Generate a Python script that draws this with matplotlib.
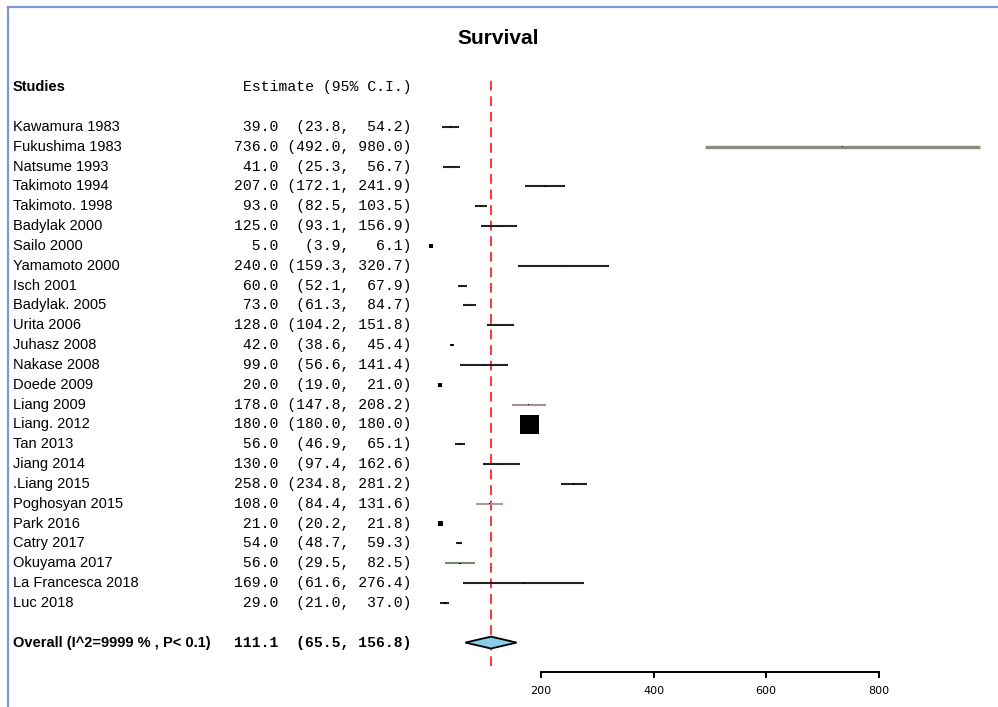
import matplotlib
matplotlib.use("Agg")
import matplotlib.pyplot as plt
import matplotlib.transforms as mtransforms
from matplotlib.lines import Line2D
import numpy as np

# Study data
studies = [
    "Kawamura 1983", "Fukushima 1983", "Natsume 1993", "Takimoto 1994", "Takimoto. 1998",
    "Badylak 2000", "Sailo 2000", "Yamamoto 2000", "Isch 2001", "Badylak. 2005",
    "Urita 2006", "Juhasz 2008", "Nakase 2008", "Doede 2009", "Liang 2009",
    "Liang. 2012", "Tan 2013", "Jiang 2014", ".Liang 2015", "Poghosyan 2015",
    "Park 2016", "Catry 2017", "Okuyama 2017", "La Francesca 2018", "Luc 2018",
]
estimate = [39.0, 736.0, 41.0, 207.0, 93.0, 125.0, 5.0, 240.0, 60.0, 73.0,
            128.0, 42.0, 99.0, 20.0, 178.0, 180.0, 56.0, 130.0, 258.0, 108.0,
            21.0, 54.0, 56.0, 169.0, 29.0]
lower = [23.8, 492.0, 25.3, 172.1, 82.5, 93.1, 3.9, 159.3, 52.1, 61.3,
         104.2, 38.6, 56.6, 19.0, 147.8, 180.0, 46.9, 97.4, 234.8, 84.4,
         20.2, 48.7, 29.5, 61.6, 21.0]
upper = [54.2, 980.0, 56.7, 241.9, 103.5, 156.9, 6.1, 320.7, 67.9, 84.7,
         151.8, 45.4, 141.4, 21.0, 208.2, 180.0, 65.1, 162.6, 281.2, 131.6,
         21.8, 59.3, 82.5, 276.4, 37.0]

overall_label = "Overall (I^2=9999 % , P< 0.1)"
overall_est, overall_lo, overall_hi = 111.1, 65.5, 156.8
x_ticks = [200, 400, 600, 800]

W, H = 998, 707
fig = plt.figure(figsize=(W / 100, H / 100), dpi=100)

# plot area in pixels
left_px, right_px, top_px, bot_px = 420, 990, 50, 700
row0_px, row_step = 127, 19.83
ax = fig.add_axes([left_px / W, 1 - bot_px / H, (right_px - left_px) / W, (bot_px - top_px) / H])
zero_px, px_per_unit = 428.5, 0.5625
ax.set_xlim((left_px - zero_px) / px_per_unit, (right_px - zero_px) / px_per_unit)
ax.set_ylim(-(bot_px - row0_px) / row_step, (row0_px - top_px) / row_step)

n = len(studies)
ys = -np.arange(n)
est = np.array(estimate)
lo = np.array(lower)
hi = np.array(upper)

# line colours (jpeg tints in the original)
line_colors = ["#222222"] * n
line_colors[1] = "#8c8c7e"
line_colors[14] = "#a88e96"
line_colors[19] = "#a89aa0"
line_colors[22] = "#6f8a6a"
line_widths = [1.5] * n
line_widths[1] = 2.4

for i in range(n):
    ax.plot([lo[i], hi[i]], [ys[i], ys[i]], color=line_colors[i], lw=line_widths[i],
            solid_capstyle="butt", zorder=2)

# box sizes from the CI width (narrow CI -> bigger box)
se = (hi - lo) / 3.92
side_px = np.where(se > 0, np.clip(3.0 / np.sqrt(np.where(se > 0, se, 1)), 1.2, 4.8), 19)
ax.scatter(est, ys, marker="s", s=(side_px * 0.72) ** 2, color="black", linewidths=0, zorder=3)

# overall diamond
yo = -26
dh = 0.3
ax.fill([overall_lo, overall_est, overall_hi, overall_est],
        [yo, yo + dh, yo, yo - dh], facecolor="#87cee6", edgecolor="black", lw=1.3, zorder=3)

# reference line
ax.axvline(overall_est, ymin=(bot_px - 666) / (bot_px - top_px), ymax=(bot_px - 80) / (bot_px - top_px),
           color="#ff3333", lw=1.4, dashes=(5, 3), zorder=1)

# x axis
for s in ["top", "right", "left"]:
    ax.spines[s].set_visible(False)
ax.spines["bottom"].set_position(("data", -(672 - row0_px) / row_step))
ax.spines["bottom"].set_bounds(x_ticks[0], x_ticks[-1])
ax.spines["bottom"].set_linewidth(1.4)
ax.set_xticks(x_ticks)
ax.set_xticklabels([str(t) for t in x_ticks], fontsize=8, family="Liberation Sans Narrow")
ax.tick_params(axis="x", direction="out", length=4, width=1.4, pad=6)
ax.set_yticks([])
ax.patch.set_alpha(0)

# text columns on the left
tr = mtransforms.blended_transform_factory(fig.transFigure, ax.transData)
name_x = 13 / W
est_x = 412 / W
fig.text(name_x, 2, "Studies", transform=tr, fontsize=10.5, fontweight="bold",
         family="Liberation Sans", va="center")
fig.text(est_x, 2, "Estimate (95% C.I.)", transform=tr, fontsize=10.6,
         family="Liberation Mono", va="center", ha="right")

for i in range(n):
    fig.text(name_x, ys[i], studies[i], transform=tr, fontsize=10.5,
             family="Liberation Sans", va="center")
    s = "{:>5} {:>7} {:>6}".format(f"{est[i]:.1f}", f"({lo[i]:.1f},", f"{hi[i]:.1f})")
    fig.text(est_x, ys[i], s, transform=tr, fontsize=10.6, family="Liberation Mono",
             va="center", ha="right")

fig.text(name_x, yo, overall_label, transform=tr, fontsize=10.5, fontweight="bold",
         family="Liberation Sans", va="center")
s = "{:>5} {:>7} {:>6}".format(f"{overall_est:.1f}", f"({overall_lo:.1f},", f"{overall_hi:.1f})")
fig.text(est_x, yo, s, transform=tr, fontsize=10.6, fontweight="bold",
         family="Liberation Mono", va="center", ha="right")

# title
fig.text(498 / W, 1 - 38 / H, "Survival", fontsize=15, fontweight="bold",
         family="Liberation Sans", ha="center", va="center")

# blue frame (top and left)
frame_c = "#7b98d6"
fig.add_artist(Line2D([8 / W, 1], [1 - 7 / H, 1 - 7 / H], transform=fig.transFigure,
                      color=frame_c, lw=1.6))
fig.add_artist(Line2D([8 / W, 8 / W], [0, 1 - 7 / H], transform=fig.transFigure,
                      color=frame_c, lw=1.6))

fig.savefig("out.png", dpi=100)
